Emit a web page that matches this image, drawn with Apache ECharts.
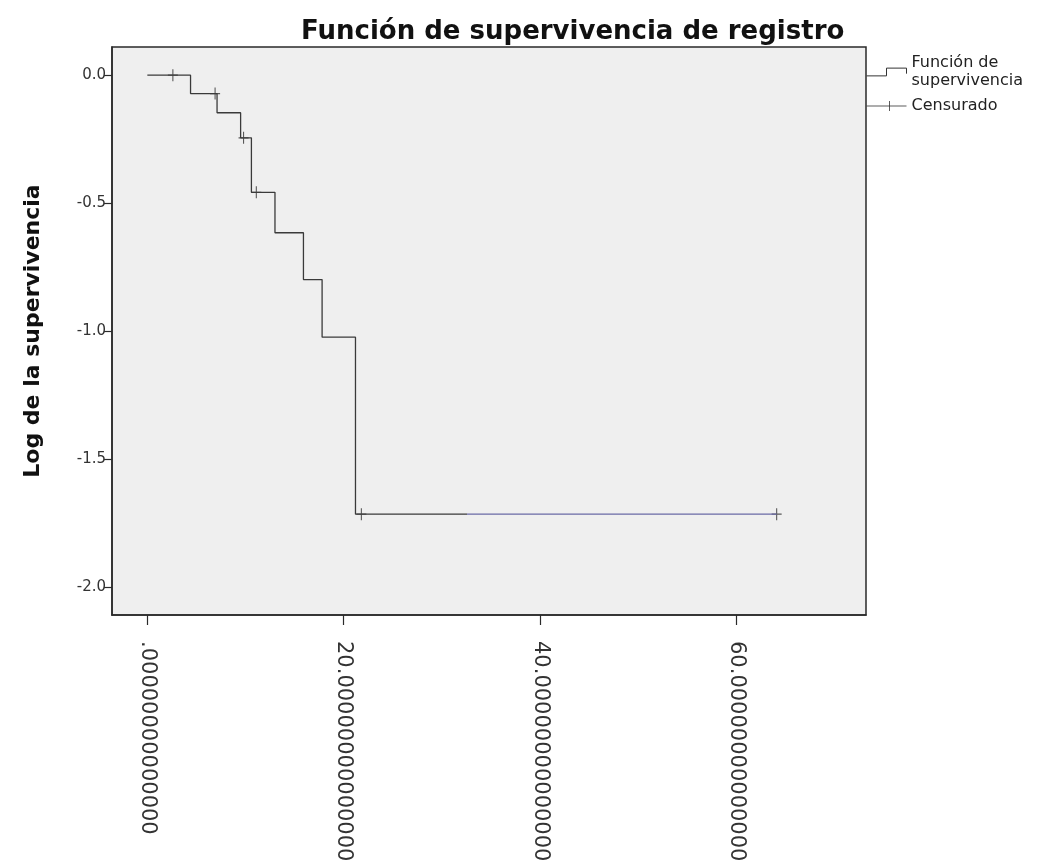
<!DOCTYPE html>
<html>
<head>
<meta charset="utf-8">
<script src="https://cdn.jsdelivr.net/npm/echarts@6/dist/echarts.min.js"></script>
<style>
  html, body { margin: 0; padding: 0; background: #ffffff; }
  #chart { width: 1050px; height: 860px; }
</style>
</head>
<body>
<div id="chart"></div>
<script>
// ---- data ----
const chartTitle = 'Función de supervivencia de registro';
const yAxisTitle = 'Log de la supervivencia';
const seriesSurvival = 'Función de\nsupervivencia';
const seriesCensored = 'Censurado';

// step function: [time, log survival]
const survTimes  = [0, 4.4, 7.1, 9.5, 10.6, 13.0, 15.9, 17.8, 21.2, 64.1];
const survValues = [0, -0.072, -0.147, -0.245, -0.458, -0.616, -0.799, -1.024, -1.716, -1.716];

// censored marks
const censTimes  = [2.6, 6.9, 9.8, 11.1, 21.8, 64.1];
const censValues = [0, -0.072, -0.245, -0.458, -1.716, -1.716];

// ticks
const xTicks = [0, 20, 40, 60];
const xTickLabels = ['.00000000000000', '20.00000000000000', '40.00000000000000', '60.00000000000000'];
const yTicks = [-2, -1.5, -1, -0.5, 0];
const yTickLabels = ['-2.0', '-1.5', '-1.0', '-0.5', '0.0'];

// ---- chart ----
const survData = survTimes.map((t, i) => [t, survValues[i]]);
const censData = censTimes.map((t, i) => [t, censValues[i]]);
const FONT = 'DejaVu Sans';

// the last flat segment of the curve is tinted blue in the reference, from about t = 32.6
const tMax = survTimes[survTimes.length - 1];
const tintStart = 32.6 / tMax;
const lineGradient = new echarts.graphic.LinearGradient(0, 0, 1, 0, [
  { offset: 0, color: '#3a3a3a' },
  { offset: tintStart, color: '#3a3a3a' },
  { offset: tintStart, color: '#6a6aa6' },
  { offset: 1, color: '#6a6aa6' }
]);

const chart = echarts.init(document.getElementById('chart'), null, { renderer: 'canvas' });
chart.setOption({
  backgroundColor: '#ffffff',
  animation: false,
  textStyle: { fontFamily: FONT },
  title: {
    text: chartTitle,
    left: 296, top: 14,
    textStyle: { fontFamily: FONT, fontSize: 26, fontWeight: 'bold', color: '#111' }
  },
  grid: {
    left: 112, top: 47, right: 184, bottom: 245,
    outerBoundsMode: 'none', containLabel: false,
    show: true, backgroundColor: '#efefef', borderColor: '#2a2a2a', borderWidth: 1.5
  },
  legend: {
    orient: 'vertical',
    left: 866, top: 54, padding: 0,
    itemWidth: 40, itemHeight: 10, itemGap: 7,
    textStyle: { fontFamily: FONT, fontSize: 16, color: '#222', lineHeight: 18 },
    itemStyle: { color: 'transparent', borderColor: '#333', borderWidth: 1 },
    data: [
      { name: seriesSurvival, icon: 'path://M0,7 L18,7 L18,0 L36,0 L36,5' },
      { name: seriesCensored, icon: 'path://M0,5 L40,5 M23,0 L23,10' }
    ]
  },
  xAxis: {
    type: 'value', min: -3.6, max: 73.2,
    axisLine: { show: true, onZero: false, lineStyle: { color: '#2a2a2a', width: 1.5 } },
    splitLine: { show: false },
    axisTick: { show: true, length: 10, customValues: xTicks, lineStyle: { color: '#2a2a2a', width: 1.2 } },
    axisLabel: {
      customValues: xTicks, rotate: -90, margin: 26,
      fontFamily: FONT, fontSize: 21, color: '#333',
      formatter: v => { const i = xTicks.indexOf(v); return i >= 0 ? xTickLabels[i] : ''; }
    }
  },
  yAxis: {
    type: 'value', min: -2.11, max: 0.11,
    name: yAxisTitle, nameLocation: 'middle', nameGap: 68,
    nameTextStyle: { fontFamily: FONT, fontSize: 22, fontWeight: 'bold', color: '#111' },
    axisLine: { show: true, onZero: false, lineStyle: { color: '#2a2a2a', width: 1.5 } },
    splitLine: { show: false },
    axisTick: { show: true, length: 8, customValues: yTicks, lineStyle: { color: '#2a2a2a', width: 1.2 } },
    axisLabel: {
      customValues: yTicks, margin: 6,
      fontFamily: FONT, fontSize: 15, color: '#333',
      formatter: v => { const i = yTicks.findIndex(t => Math.abs(t - v) < 1e-9); return i >= 0 ? yTickLabels[i] : ''; }
    }
  },
  series: [
    {
      name: seriesSurvival,
      type: 'line', step: 'end',
      data: survData,
      showSymbol: false, symbol: 'none',
      lineStyle: { color: lineGradient, width: 1.3 },
      itemStyle: { color: '#3a3a3a' }
    },
    {
      name: seriesCensored,
      type: 'scatter',
      data: censData,
      symbol: 'path://M0,6 L10,6 M5,0 L5,12',
      symbolSize: [10, 12],
      itemStyle: { color: 'transparent', borderColor: '#333', borderWidth: 1.2 }
    }
  ]
});
</script>
</body>
</html>
